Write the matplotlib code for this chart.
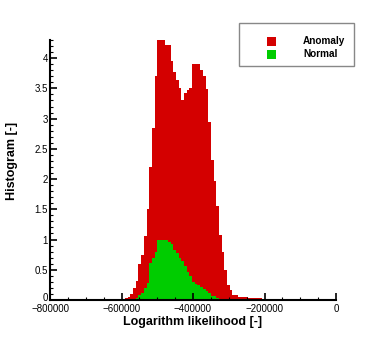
import matplotlib
matplotlib.use("Agg")
import matplotlib.pyplot as plt
from matplotlib.patches import Rectangle
import matplotlib.transforms as mtransforms
import numpy as np

plt.rcParams['font.family'] = ['Liberation Sans', 'DejaVu Sans']

# histogram bins (log likelihood)
bin_start = -590000
bin_width = 7500

anomaly = [0.03, 0.05, 0.10, 0.20, 0.31, 0.60, 0.75, 1.06, 1.50, 2.20,
           2.85, 3.70, 4.30, 4.30, 4.30, 4.22, 4.22, 3.95, 3.77, 3.64,
           3.50, 3.30, 3.42, 3.48, 3.50, 3.90, 3.90, 3.90, 3.80, 3.71,
           3.49, 2.94, 2.32, 1.96, 1.55, 1.08, 0.80, 0.50, 0.25, 0.17,
           0.08, 0.08, 0.055, 0.055, 0.055, 0.05, 0.03, 0.03, 0.03, 0.025,
           0.025, 0.02, 0, 0, 0, 0.015, 0.015, 0.015]
normal = [0, 0, 0, 0, 0.03, 0.08, 0.12, 0.20, 0.28, 0.61,
          0.70, 0.79, 0.99, 1.00, 1.00, 0.99, 0.96, 0.93, 0.83, 0.78,
          0.70, 0.64, 0.57, 0.46, 0.40, 0.30, 0.26, 0.25, 0.21, 0.19,
          0.15, 0.12, 0.06, 0.06, 0.03, 0.02, 0.01, 0, 0, 0,
          0, 0, 0, 0, 0, 0, 0, 0, 0, 0,
          0, 0, 0, 0, 0, 0, 0, 0]
series_names = ['Anomaly', 'Normal']
series_colors = ['#d40000', '#00cc00']

edges = bin_start + bin_width * np.arange(len(anomaly) + 1)

fig = plt.figure(figsize=(3.82, 3.39), dpi=100)
ax = fig.add_axes([50 / 382, 1 - 300 / 339, 286 / 382, 260 / 339])

ax.stairs(anomaly, edges, fill=True, color=series_colors[0], lw=0)
ax.stairs(normal, edges, fill=True, color=series_colors[1], lw=0)

ax.set_xlim(-800000, 0)
ax.set_ylim(0, 4.3)
ax.set_xticks(np.arange(-800000, 1, 200000))
ax.set_xticks(np.arange(-800000, 1, 50000), minor=True)
ax.set_yticks([0, 0.5, 1, 1.5, 2, 2.5, 3, 3.5, 4])
ax.set_yticklabels(['0', '0.5', '1', '1.5', '2', '2.5', '3', '3.5', '4'])
ax.set_yticks(np.arange(0, 4.31, 0.1), minor=True)

for s in ['top', 'right']:
    ax.spines[s].set_visible(False)
for s in ['left', 'bottom']:
    ax.spines[s].set_linewidth(1.5)

ax.tick_params(which='major', direction='in', length=5, width=1.2, labelsize=7, pad=1.5)
ax.tick_params(axis='x', which='major', pad=3)
ax.tick_params(which='minor', direction='in', length=2.5, width=0.8)

# nudge the "0" on the y axis up a little so it clears "-800000"
lab0 = ax.get_yticklabels()[0]
lab0.set_transform(lab0.get_transform() +
                   mtransforms.ScaledTranslation(0, 2 / 72, fig.dpi_scale_trans))

ax.set_xlabel('Logarithm likelihood [-]', fontsize=9, fontweight='bold', labelpad=1)
ax.set_ylabel('Histogram [-]', fontsize=9, fontweight='bold')
ax.yaxis.set_label_coords(-0.112, 0.535)

# legend box (figure pixels)
W, H = 382, 339
fig.patches.append(Rectangle((239 / W, 1 - 66 / H), 115 / W, 43 / H,
                             transform=fig.transFigure, fill=False,
                             edgecolor='#888888', lw=1))
for i, (name, col) in enumerate(zip(series_names, series_colors)):
    yc = 41.5 + i * 12.7
    fig.patches.append(Rectangle((267 / W, 1 - (yc + 4.5) / H), 9 / W, 9 / H,
                                 transform=fig.transFigure, color=col, lw=0))
    fig.text(303 / W, 1 - yc / H, name, fontsize=7.2, fontweight='bold',
             va='center', ha='left')

fig.savefig('out.png', dpi=100)
